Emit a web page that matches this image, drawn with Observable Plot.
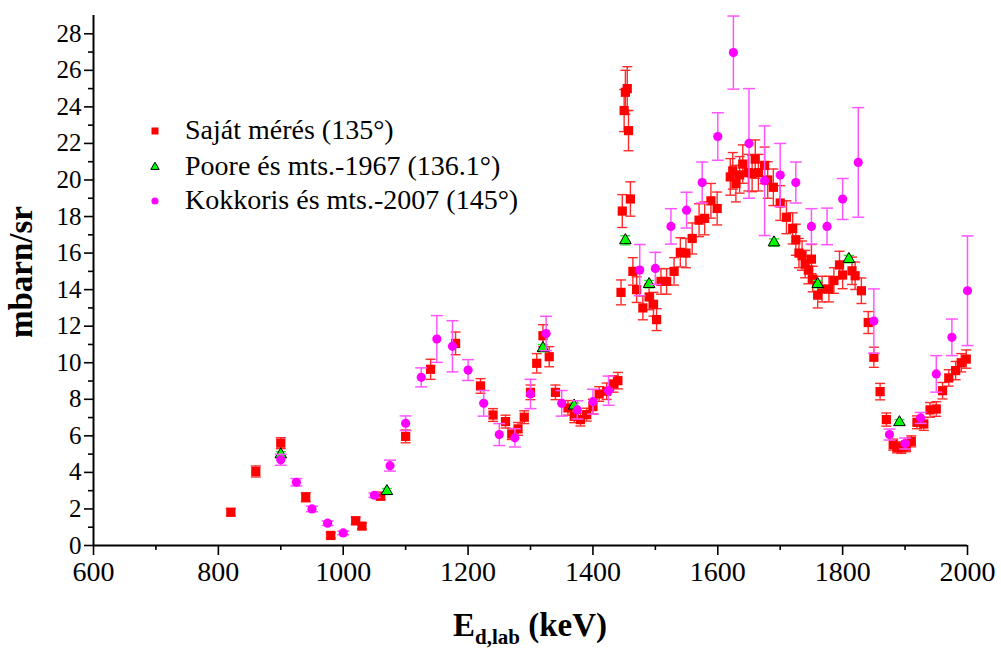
<!DOCTYPE html>
<html>
<head>
<meta charset="utf-8">
<script src="https://cdn.jsdelivr.net/npm/d3@7"></script>
<script src="https://cdn.jsdelivr.net/npm/@observablehq/plot@0.6"></script>
<style>
  html, body { margin: 0; padding: 0; background: #fff; }
  #chart { width: 1001px; height: 652px; }
  #chart svg, #chart svg text { font-family: "Liberation Serif", "Tinos", "DejaVu Serif", serif !important; }
</style>
</head>
<body>
<div id="chart"></div>
<script>
// ---- Saját mérés (135°) ----
const sajatE = [820,860,900,940,980,1020,1030,1060,1100,1140,1180,1220,1240,1260,1270,1280,1290,1300,1310,1320,1330,1340,1360,1370,1380,1390,1400,1410,1422,1433,1440,1445,1447,1450,1452,1455,1457,1460,1464,1470,1480,1490,1497,1502,1509,1518,1530,1540,1549,1559,1570,1579,1589,1599,1620,1624,1629,1635,1640,1649,1655,1660,1665,1675,1680,1689,1700,1710,1720,1725,1730,1735,1740,1745,1750,1752,1760,1767,1778,1786,1795,1800,1815,1820,1830,1841,1850,1860,1870,1881,1887,1894,1902,1910,1919,1930,1940,1950,1960,1970,1981,1990,1998];
const sajatY = [1.82,4.05,5.6,2.64,0.55,1.35,1.06,2.7,5.97,9.64,11.06,8.73,7.14,6.78,6.1,6.38,7.02,8.38,9.97,11.48,10.33,8.38,7.53,7.07,6.89,7.16,7.6,8.29,8.44,8.84,9.02,13.85,18.3,23.8,24.8,25.0,22.7,18.96,15.0,14.0,13.0,13.6,13.2,12.36,14.45,14.45,15.0,16.04,16.0,16.8,17.8,17.9,18.86,18.44,20.17,20.5,19.8,20.28,20.87,20.4,20.36,21.14,20.4,20.8,20.0,19.6,18.74,17.96,17.35,16.73,16.0,15.86,15.4,15.07,15.67,14.58,13.7,14.03,14.03,14.5,15.35,14.8,15.03,14.76,13.94,12.2,10.3,8.42,6.89,5.52,5.37,5.34,5.43,5.7,6.74,6.65,7.42,7.47,8.47,9.17,9.57,10.0,10.2];
const sajatErr = [0.2,0.3,0.3,0.25,0.15,0.2,0.15,0.2,0.35,0.55,0.62,0.4,0.35,0.35,0.3,0.35,0.35,0.4,0.53,0.6,0.55,0.4,0.4,0.35,0.35,0.35,0.4,0.4,0.45,0.45,0.45,0.68,0.9,1.15,1.2,1.2,1.1,0.94,0.75,0.7,0.65,0.7,0.65,0.6,0.7,0.7,0.75,0.8,0.8,0.85,0.9,0.9,0.95,0.9,1.0,1.0,1.0,1.0,1.05,1.0,1.0,1.05,1.0,1.0,1.0,1.0,0.95,0.9,0.85,0.85,0.8,0.8,0.75,0.75,0.8,0.7,0.7,0.7,0.7,0.7,0.75,0.75,0.75,0.75,0.7,0.6,0.55,0.45,0.36,0.3,0.3,0.3,0.3,0.3,0.35,0.35,0.4,0.4,0.45,0.45,0.5,0.5,0.5];

// ---- Poore és mts.-1967 (136.1°) ----
const pooreE = [900,1070,1320,1370,1452,1490,1690,1760,1810,1891];
const pooreY = [4.98,2.97,10.8,7.65,16.7,14.3,16.58,14.3,15.67,6.74];
const pooreErr = [0.15,0.15,0.2,0.15,0.25,0.2,0.2,0.2,0.2,0.15];

// ---- Kokkoris és mts.-2007 (145°) ----
const kokkE = [900,925,950,975,1000,1050,1075,1100,1125,1150,1175,1200,1225,1250,1275,1300,1325,1350,1375,1400,1425,1475,1500,1525,1550,1575,1600,1625,1650,1675,1700,1725,1750,1775,1800,1825,1850,1875,1900,1925,1950,1975,2000];
const kokkY = [4.69,3.46,2.0,1.22,0.69,2.75,4.37,6.69,9.2,11.3,10.9,9.6,7.78,6.07,5.89,8.29,11.6,7.78,7.42,7.87,8.47,15.07,15.16,17.46,18.35,19.86,22.38,26.97,22.0,19.96,20.27,19.86,17.46,17.46,18.96,20.96,12.28,6.07,5.58,6.98,9.39,11.39,13.94];
const kokkErr = [0.3,0.2,0.15,0.12,0.1,0.12,0.3,0.4,0.52,1.28,1.4,0.57,0.7,0.6,0.5,0.8,0.94,0.7,0.5,0.68,0.8,1.4,0.88,0.97,0.98,1.12,1.3,2.0,3.0,3.0,1.73,1.12,0.97,1.0,1.12,3.0,1.76,0.3,0.3,0.3,1.0,1.0,3.0];

// axis ticks
const xMajor = [600,800,1000,1200,1400,1600,1800,2000];
const xMinor = [700,900,1100,1300,1500,1700,1900];
const yMajor = [0,2,4,6,8,10,12,14,16,18,20,22,24,26,28];
const yMinor = [1,3,5,7,9,11,13,15,17,19,21,23,25,27];

const legendLabels = ["Saját mérés (135°)", "Poore és mts.-1967 (136.1°)", "Kokkoris és mts.-2007 (145°)"];

const toRows = (E, Y, Err) => E.map((e, i) => ({x: e, y: Y[i], lo: Y[i] - Err[i], hi: Y[i] + Err[i]}));
const sajat = toRows(sajatE, sajatY, sajatErr);
const poore = toRows(pooreE, pooreY, pooreErr);
const kokk = toRows(kokkE, kokkY, kokkErr);

const cap = {draw(ctx, size) { const w = Math.sqrt(size / Math.PI); ctx.moveTo(-w, 0); ctx.lineTo(w, 0); }};

function errMarks(data, color, capR, sw) {
  return [
    Plot.ruleX(data, {x: "x", y1: "lo", y2: "hi", stroke: color, strokeWidth: sw}),
    Plot.dot(data, {x: "x", y: "lo", symbol: cap, r: capR, stroke: color, fill: "none", strokeWidth: sw}),
    Plot.dot(data, {x: "x", y: "hi", symbol: cap, r: capR, stroke: color, fill: "none", strokeWidth: sw})
  ];
}

const font = "\"Liberation Serif\", \"Tinos\", \"DejaVu Serif\", serif";
const plain = d => String(d);

const chart = Plot.plot({
  width: 1001,
  height: 652,
  marginLeft: 93,
  marginRight: 34,
  marginTop: 15,
  marginBottom: 107,
  style: {background: "#fff", color: "#000"},
  x: {domain: [600, 2000], label: null},
  y: {domain: [0, 29], label: null},
  marks: [
    ...errMarks(sajat, "#ff2a2a", 5, 1.4),
    Plot.dot(sajat, {x: "x", y: "y", symbol: "square", r: 5.2, fill: "#ff0000"}),
    ...errMarks(poore, "#22ee22", 5, 1.4),
    Plot.dot(poore, {x: "x", y: "y", symbol: "triangle", r: 4.3, fill: "#00ff00", stroke: "#000", strokeWidth: 1}),
    ...errMarks(kokk, "#ff55ff", 6, 1.5),
    Plot.dot(kokk, {x: "x", y: "y", r: 4.6, fill: "#ff00ff"}),
    Plot.axisX(xMinor, {tickSize: 5, tickFormat: () => "", strokeWidth: 1.6, label: null}),
    Plot.axisX(xMajor, {tickSize: 10, tickPadding: 6, fontSize: 28, tickFormat: plain, strokeWidth: 1.6, label: null}),
    Plot.axisY(yMinor, {tickSize: 5, tickFormat: () => "", strokeWidth: 1.6, label: null}),
    Plot.axisY(yMajor, {tickSize: 9, tickPadding: 3, fontSize: 25, tickFormat: plain, strokeWidth: 1.6, label: null}),
    Plot.ruleX([600], {strokeWidth: 2}),
    Plot.ruleY([0], {strokeWidth: 2})
  ]
});

const svg = d3.select(chart);
// x-axis title
const xt = svg.append("text")
  .attr("x", 530).attr("y", 636)
  .attr("text-anchor", "middle")
  .attr("font-weight", "bold").attr("font-size", 33).attr("fill", "#000");
xt.append("tspan").text("E");
xt.append("tspan").attr("dy", 8).attr("font-size", 21).text("d,lab");
xt.append("tspan").attr("dy", -8).text(" (keV)");
// y-axis title
svg.append("text")
  .attr("transform", "translate(32,272) rotate(-90)")
  .attr("text-anchor", "middle")
  .attr("font-weight", "bold").attr("font-size", 33).attr("fill", "#000")
  .text("mbarn/sr");

// legend
const lg = svg.append("g");
const rowsY = [131, 167, 201];
lg.append("rect").attr("x", 151.5).attr("y", rowsY[0] - 3.5).attr("width", 7).attr("height", 7).attr("fill", "#ff0000");
lg.append("path").attr("d", d3.symbol(d3.symbolTriangle, 30)()).attr("transform", `translate(155,${rowsY[1]})`)
  .attr("fill", "#00ff00").attr("stroke", "#000").attr("stroke-width", 1);
lg.append("circle").attr("cx", 155).attr("cy", rowsY[2]).attr("r", 3.6).attr("fill", "#ff00ff");
legendLabels.forEach((t, i) => {
  lg.append("text").attr("x", 185).attr("y", rowsY[i] + 8)
    .attr("text-anchor", "start")
    .attr("font-size", 28).attr("fill", "#000").text(t);
});

svg.selectAll("text").style("font-family", font, "important");

document.getElementById("chart").appendChild(chart);
</script>
</body>
</html>
